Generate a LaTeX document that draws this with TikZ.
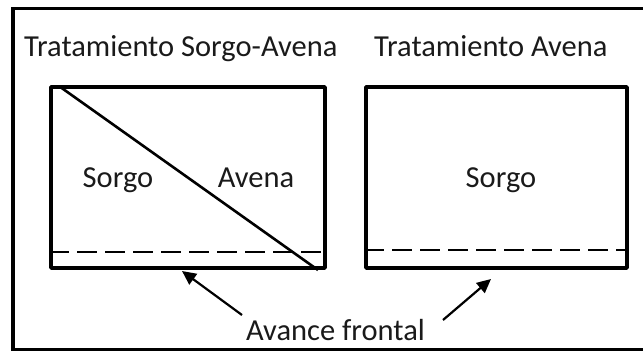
\documentclass[tikz,border=0pt]{standalone}
\usepackage{fontspec}
\setmainfont{Carlito}
\usetikzlibrary{arrows.meta}
\definecolor{ink}{HTML}{1A1A1A}
\tikzset{
  lbl/.style={inner sep=0pt, text=ink, font=\fontsize{30.5}{36}\selectfont},
  plot/.style={draw=black, line width=3.6pt, rectangle, inner sep=0pt, line join=round},
  frontline/.style={draw=black, line width=2pt, dash pattern=on 20pt off 8pt},
  divline/.style={draw=black, line width=2.6pt},
  frame/.style={draw=black, line width=3.6pt},
  pointer/.style={draw=black, line width=2.2pt, -{Triangle[length=14pt,width=13pt]}}
}
\begin{document}
\begin{tikzpicture}[x=1pt,y=-1pt]
\useasboundingbox (0,0) rectangle (643,351);
\clip (0,0) rectangle (643,351);
\draw[frame] (670,8.5) -- (13,8.5) -- (13,349.5) -- (670,349.5);
\node[lbl, anchor=base west] (t1) at (24,56.5) {Tratamiento Sorgo-Avena};
\node[lbl, anchor=base west] (t2) at (374,56.5) {Tratamiento Avena};
\node[plot, minimum width=274pt, minimum height=181pt] (b1) at (188,177.5) {};
\node[plot, minimum width=261pt, minimum height=181pt] (b2) at (496.5,177.5) {};
\coordinate (d1s) at (61.7,88);
\coordinate (d1e) at (318,270);
\draw[divline] (d1s) -- (d1e);
\draw[frontline] (b1.west |- 0,252) -- (b1.east |- 0,252);
\draw[frontline] (b2.west |- 0,250) -- (b2.east |- 0,250);
\node[lbl, anchor=base] (s1) at (118,187.5) {Sorgo};
\node[lbl, anchor=base] (a1) at (256,187.5) {Avena};
\node[lbl, anchor=base] (s2) at (501,187.5) {Sorgo};
\node[lbl, anchor=base] (af) at (335.5,340) {Avance frontal};
\coordinate (p1) at (242,315);
\coordinate (q1) at (182,271);
\coordinate (p2) at (443,320);
\coordinate (q2) at (491,279);
\draw[pointer] (p1) -- (q1);
\draw[pointer] (p2) -- (q2);
\end{tikzpicture}
\end{document}
